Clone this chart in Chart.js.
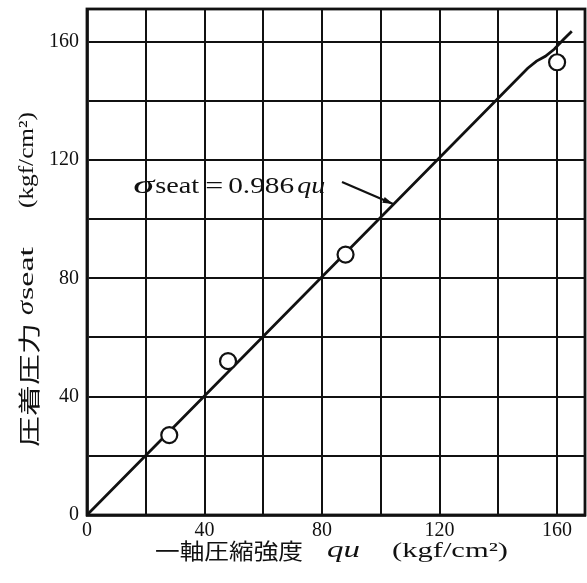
<!DOCTYPE html>
<html>
<head>
<meta charset="utf-8">
<script src="https://cdn.jsdelivr.net/npm/chart.js@4.4.1/dist/chart.umd.min.js"></script>
<style>
  body { margin: 0; background: #fff; overflow: hidden; }
  #wrap { width: 587px; height: 583px; }
  canvas { display: block; }
</style>
</head>
<body>
<div id="wrap"><canvas id="seatChart" width="587" height="583"></canvas></div>
<script>
// 一軸圧縮強度 qu と 圧着圧力 σseat の測定値
const quValues = [28, 48, 88, 160];
const seatValues = [27, 52, 88, 153];

// 回帰直線 σseat = 0.986 qu (図から読み取った線、上端の曲がりも含む)
const fitQu = [0, 150, 153, 156, 159, 162, 165];
const fitSeat = [0, 151, 153.4, 155, 157.4, 160.5, 163.5];

const gridValues = [0, 20, 40, 60, 80, 100, 120, 140, 160];
const xTickLabels = [0, 40, 80, 120, 160];
const yTickLabels = [0, 40, 80, 120, 160];

const INK = '#111';
const SERIF = '"Liberation Serif", "DejaVu Serif", serif';
const CJK = '"Noto Sans CJK JP", sans-serif';

// 幅を合わせて文字列を描く
function drawFit(ctx, text, font, x, y, width) {
    ctx.save();
    ctx.font = font;
    const w = ctx.measureText(text).width;
    ctx.translate(x, y);
    ctx.scale(width / w, 1);
    ctx.fillText(text, 0, 0);
    ctx.restore();
}

const labelsPlugin = {
    id: 'labels',
    beforeDraw(chart) {
        const ctx = chart.ctx;
        ctx.save();
        ctx.fillStyle = '#fff';
        ctx.fillRect(0, 0, chart.width, chart.height);
        ctx.restore();
    },
    afterDraw(chart) {
        const ctx = chart.ctx;
        const area = chart.chartArea;
        const xs = chart.scales.x;
        const ys = chart.scales.y;

        ctx.save();
        // 枠
        ctx.strokeStyle = INK;
        ctx.lineWidth = 2.8;
        ctx.strokeRect(area.left, area.top, area.right - area.left, area.bottom - area.top);

        ctx.fillStyle = INK;
        ctx.textBaseline = 'alphabetic';
        ctx.textAlign = 'left';

        // x軸タイトル
        drawFit(ctx, '一軸圧縮強度', '22px ' + CJK, 155, 559, 148);
        drawFit(ctx, 'qu', 'italic 24px ' + SERIF, 327, 557, 33);
        drawFit(ctx, '(kgf/cm²)', '22px ' + SERIF, 392, 557, 116);

        // y軸タイトル
        ctx.save();
        ctx.translate(0, 447);
        ctx.rotate(-Math.PI / 2);
        drawFit(ctx, '圧着圧力', '22px ' + CJK, 0, 37, 124);
        drawFit(ctx, 'σ', 'italic 24px ' + SERIF, 132, 33, 14);
        drawFit(ctx, 'seat', '22px ' + SERIF, 147, 33, 53);
        drawFit(ctx, '(kgf/cm²)', '22px ' + SERIF, 239, 33, 96);
        ctx.restore();

        // 式の注記と矢印
        const tx = xs.getPixelForValue(15.7);
        const ty = ys.getPixelForValue(108.8);
        drawFit(ctx, 'σ', 'italic 26px ' + SERIF, tx, ty, 21);
        drawFit(ctx, 'seat', '23px ' + SERIF, tx + 22, ty, 44);
        drawFit(ctx, '=', '23px ' + SERIF, tx + 72, ty, 18);
        drawFit(ctx, '0.986', '23px ' + SERIF, tx + 95, ty, 66);
        drawFit(ctx, 'qu', 'italic 23px ' + SERIF, tx + 164, ty, 28);

        const ax0 = xs.getPixelForValue(86.8), ay0 = ys.getPixelForValue(112.5);
        const ax1 = xs.getPixelForValue(104.2), ay1 = ys.getPixelForValue(105.1);
        ctx.strokeStyle = INK;
        ctx.lineWidth = 2.2;
        ctx.beginPath();
        ctx.moveTo(ax0, ay0);
        ctx.lineTo(ax1, ay1);
        ctx.stroke();
        const ang = Math.atan2(ay1 - ay0, ax1 - ax0);
        ctx.beginPath();
        ctx.moveTo(ax1, ay1);
        ctx.lineTo(ax1 - 11 * Math.cos(ang - 0.3), ay1 - 11 * Math.sin(ang - 0.3));
        ctx.lineTo(ax1 - 11 * Math.cos(ang + 0.3), ay1 - 11 * Math.sin(ang + 0.3));
        ctx.closePath();
        ctx.fill();
        ctx.restore();
    }
};

function axisOptions(max, labels, fitFn) {
    return {
        type: 'linear',
        min: 0,
        max: max,
        afterBuildTicks: function(scale) {
            scale.ticks = gridValues.map(v => ({ value: v }));
        },
        afterFit: function(scale) {
            fitFn(scale);
            // ラベルのはみ出し分の余白を使わない
            scale.paddingLeft = 0;
            scale.paddingRight = 0;
            scale.paddingTop = 0;
            scale.paddingBottom = 0;
        },
        ticks: {
            autoSkip: false,
            maxRotation: 0,
            color: INK,
            font: { family: SERIF, size: 20 },
            callback: function(v) {
                return labels.includes(v) ? String(v) : '';
            }
        },
        grid: {
            color: INK,
            lineWidth: 2,
            drawTicks: false
        },
        border: { display: true, color: INK, width: 2.8 }
    };
}

const xOpts = axisOptions(169.5, xTickLabels, s => { s.height = 68; });
xOpts.ticks.padding = 4;
const yOpts = axisOptions(171, yTickLabels, s => { s.width = 87; });
yOpts.ticks.padding = 8;

new Chart(document.getElementById('seatChart'), {
    type: 'scatter',
    data: {
        datasets: [
            {
                label: '測定値',
                data: quValues.map((q, i) => ({ x: q, y: seatValues[i] })),
                pointRadius: 8,
                pointBorderWidth: 2.2,
                pointBackgroundColor: '#fff',
                pointBorderColor: INK,
                order: 0
            },
            {
                label: 'σseat = 0.986 qu',
                data: fitQu.map((q, i) => ({ x: q, y: fitSeat[i] })),
                showLine: true,
                borderColor: INK,
                borderWidth: 2.8,
                pointRadius: 0,
                tension: 0,
                order: 1
            }
        ]
    },
    options: {
        responsive: false,
        animation: false,
        layout: { autoPadding: false, padding: { top: 9, right: 2, left: 0, bottom: 0 } },
        plugins: {
            legend: { display: false },
            tooltip: { enabled: false }
        },
        scales: { x: xOpts, y: yOpts }
    },
    plugins: [labelsPlugin]
});
</script>
</body>
</html>
